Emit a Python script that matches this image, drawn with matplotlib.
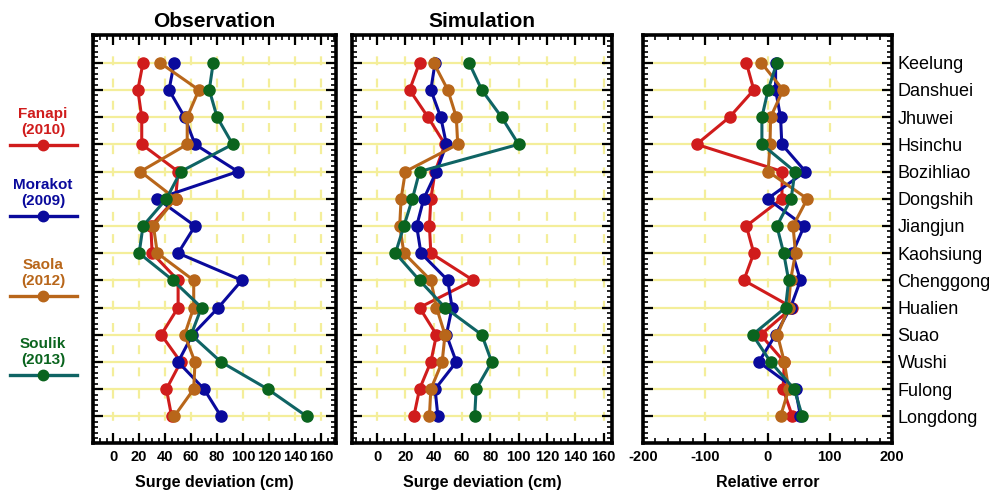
import matplotlib
matplotlib.use("Agg")
import matplotlib.pyplot as plt
from matplotlib.lines import Line2D
from matplotlib.ticker import MultipleLocator
import numpy as np

plt.rcParams['font.family'] = ['Liberation Sans', 'DejaVu Sans']

stations = ["Keelung", "Danshuei", "Jhuwei", "Hsinchu", "Bozihliao", "Dongshih",
            "Jiangjun", "Kaohsiung", "Chenggong", "Hualien", "Suao", "Wushi",
            "Fulong", "Longdong"]

typhoons = ["Fanapi\n(2010)", "Morakot\n(2009)", "Saola\n(2012)", "Soulik\n(2013)"]

# Observation surge deviation (cm)
obs_fanapi = [23, 19, 22, 22, 50, 48, 29, 30, 50, 50, 37, 52, 41, 45]
obs_morakot = [47, 43, 55, 63, 96, 34, 63, 50, 99, 81, 61, 50, 70, 83]
obs_saola = [36, 66, 57, 57, 21, 48, 31, 34, 62, 62, 55, 63, 62, 47]
obs_soulik = [77, 74, 80, 92, 52, 41, 23, 20, 46, 68, 60, 83, 119, 149]

# Simulation surge deviation (cm)
sim_fanapi = [30, 23, 36, 48, 41, 38, 37, 38, 68, 30, 42, 38, 30, 26]
sim_morakot = [41, 38, 45, 49, 42, 33, 28, 31, 50, 53, 49, 56, 41, 43]
sim_saola = [40, 50, 56, 57, 20, 17, 16, 19, 38, 42, 48, 46, 38, 37]
sim_soulik = [65, 74, 88, 100, 30, 25, 19, 13, 30, 48, 74, 81, 70, 69]

# Relative error
err_fanapi = [-34, -22, -61, -114, 24, 23, -34, -22, -38, 40, -11, 27, 25, 40]
err_morakot = [13, 13, 21, 23, 61, 0, 59, 40, 53, 37, 13, -14, 45, 53]
err_saola = [-10, 25, 5, 4, 1, 64, 41, 45, 37, 34, 16, 27, 34, 21]
err_soulik = [15, 1, -9, -9, 44, 38, 15, 26, 34, 29, -24, 5, 43, 56]

line_colors = ["#d01c1c", "#0a0a9c", "#b8661a", "#0f6464"]
marker_colors = ["#d01c1c", "#0a0a9c", "#b8661a", "#0a641e"]

obs = [obs_fanapi, obs_morakot, obs_saola, obs_soulik]
sim = [sim_fanapi, sim_morakot, sim_saola, sim_soulik]
err = [err_fanapi, err_morakot, err_saola, err_soulik]

fig = plt.figure(figsize=(10.05, 4.9), dpi=100)
H = 490.0
W = 1005.0
def rect(x0, x1, y0, y1):
    return [x0 / W, 1 - y1 / H, (x1 - x0) / W, (y1 - y0) / H]

ax1 = fig.add_axes(rect(93, 336, 35, 443))
ax2 = fig.add_axes(rect(352, 612, 35, 443))
ax3 = fig.add_axes(rect(643, 892, 35, 443))

y = np.arange(len(stations))
grid_color = "#f4ee9a"

def style(ax, xlim, major, minor):
    ax.set_xlim(*xlim)
    ax.set_ylim(len(stations) - 1 + 0.98, -1.02)
    ax.xaxis.set_major_locator(MultipleLocator(major))
    ax.xaxis.set_minor_locator(MultipleLocator(minor))
    ax.set_yticks(y)
    ax.yaxis.set_minor_locator(MultipleLocator(0.2))
    for s in ax.spines.values():
        s.set_linewidth(2.6)
        s.set_color("black")
    ax.tick_params(axis="both", which="major", direction="in", length=7, width=1.6,
                   top=True, bottom=True, left=True, right=True)
    ax.tick_params(axis="both", which="minor", direction="in", length=3.5, width=1.2,
                   top=True, bottom=True, left=True, right=True)
    ax.tick_params(axis="x", which="major", labelsize=10.5, pad=5)
    for yy in y:
        ax.axhline(yy, color=grid_color, lw=1.6, zorder=0)
    ax.grid(axis="x", which="major", color=grid_color, lw=1.6, ls=(0, (4, 6)), zorder=0)
    ax.set_axisbelow(True)

for ax, data in [(ax1, obs), (ax2, sim), (ax3, err)]:
    for vals, lc, mc in zip(data, line_colors, marker_colors):
        ax.plot(vals, y, color=lc, lw=2.2, marker="o", markersize=8,
                markerfacecolor=mc, markeredgecolor=mc, zorder=3)

style(ax1, (-15.5, 171.5), 20, 5)
style(ax2, (-17.7, 166), 20, 5)
style(ax3, (-200, 200), 100, 20)

for ax in (ax1, ax2):
    ax.set_xticks(np.arange(0, 161, 20))
    ax.set_xticklabels([str(v) for v in range(0, 161, 20)], fontweight="bold", fontsize=10.5)
    ax.set_yticklabels([])
    ax.set_xlabel("Surge deviation (cm)", fontsize=11.5, fontweight="bold", labelpad=8)

ax3.set_xticks([-200, -100, 0, 100, 200])
ax3.set_xticklabels(["-200", "-100", "0", "100", "200"], fontweight="bold", fontsize=10.5)
ax3.set_xlabel("Relative error", fontsize=11.5, fontweight="bold", labelpad=8)
ax3.yaxis.set_ticks_position("both")
ax3.tick_params(axis="y", which="both", labelleft=False, labelright=True)
ax3.set_yticklabels(stations, fontsize=13)
ax3.tick_params(axis="y", which="major", pad=4)

ax1.set_title("Observation", fontsize=15, fontweight="bold", pad=6)
ax2.set_title("Simulation", fontsize=15, fontweight="bold", pad=6)

# Legend on the left
leg_y = [145, 216, 296, 375]
for name, lc, mc, ly in zip(typhoons, line_colors, marker_colors, leg_y):
    fig.text(43 / W, 1 - (ly - 8) / H, name, color=mc,
             fontsize=11, fontweight="bold", ha="center", va="bottom", linespacing=1.15)
    fig.add_artist(Line2D([10 / W, 77 / W], [1 - ly / H, 1 - ly / H], color=lc, lw=2.4,
                          transform=fig.transFigure))
    fig.add_artist(Line2D([43 / W], [1 - ly / H], color=lc, marker="o", markersize=7.5,
                          markerfacecolor=mc, markeredgecolor=mc, transform=fig.transFigure))

fig.savefig("out.png", dpi=100)
